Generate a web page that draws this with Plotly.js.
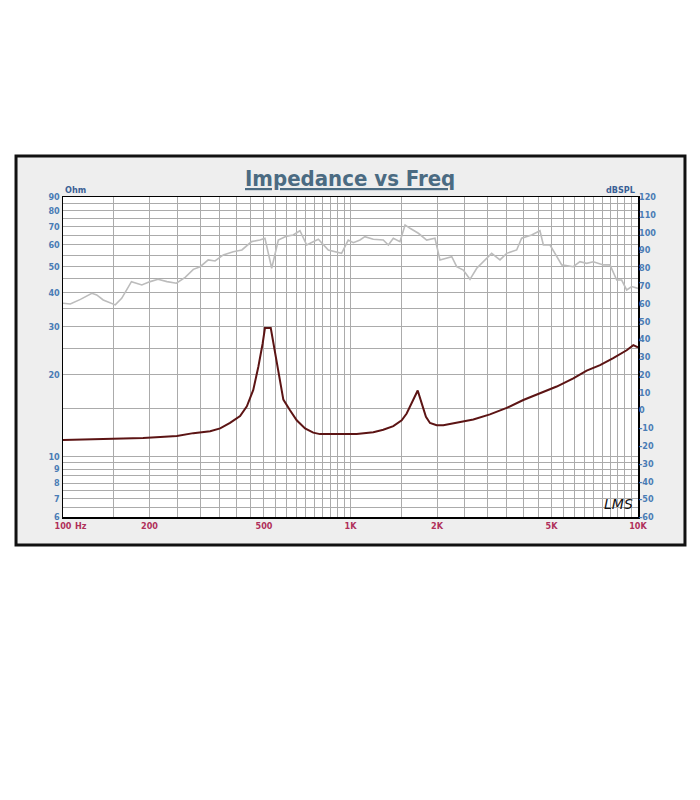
<!DOCTYPE html>
<html>
<head>
<meta charset="utf-8">
<script src="https://cdn.plot.ly/plotly-3.0.1.min.js"></script>
<style>html,body{margin:0;padding:0;background:#fff;}</style>
</head>
<body>
<div id="chart" style="width:700px;height:800px;"></div>
<script>
// Impedance curve (Ohm, left log axis)
const impFreq = [100, 146, 190, 218, 249, 284, 325, 352, 381, 413, 436, 459, 478, 495, 504, 528, 539, 561, 584, 616, 650, 695, 742, 783, 871, 944, 996, 1051, 1200, 1300, 1409, 1507, 1568, 1633, 1713, 1769, 1830, 1890, 1994, 2103, 2341, 2674, 3055, 3493, 3990, 4560, 5214, 5957, 6630, 7379, 8200, 9132, 9632, 10000];
const impOhm = [11.5, 11.6, 11.7, 11.8, 11.9, 12.2, 12.4, 12.7, 13.3, 14.1, 15.3, 17.6, 21.4, 26.1, 29.7, 29.7, 26.1, 20.3, 16.2, 14.8, 13.6, 12.7, 12.25, 12.1, 12.1, 12.15, 12.1, 12.1, 12.3, 12.55, 12.95, 13.6, 14.4, 15.7, 17.5, 15.7, 14.0, 13.3, 13.05, 13.05, 13.3, 13.7, 14.3, 15.1, 16.15, 17.1, 18.1, 19.4, 20.7, 21.7, 23.0, 24.6, 25.7, 25.2];

// SPL curve (dBSPL, right linear axis)
const splFreq = [100, 106, 115, 126, 131, 138, 152, 160, 173, 188, 201, 214, 230, 248, 266, 284, 300, 320, 338, 361, 391, 419, 453, 484, 504, 532, 561, 600, 632, 667, 704, 773, 837, 931, 982, 1023, 1079, 1122, 1200, 1300, 1354, 1409, 1486, 1548, 1611, 1722, 1841, 1967, 2047, 2161, 2250, 2341, 2468, 2604, 2748, 3097, 3311, 3493, 3784, 3938, 4266, 4560, 4686, 4943, 5429, 5957, 6281, 6630, 6994, 7576, 7990, 8433, 8774, 9132, 9506, 10000];
const splDb = [60.2, 59.8, 62.4, 65.8, 64.9, 62.1, 59.3, 63.0, 72.4, 70.5, 72.4, 73.7, 72.4, 71.5, 74.8, 79.3, 80.8, 84.6, 84.0, 87.4, 89.2, 90.2, 94.9, 95.8, 96.8, 79.9, 95.8, 98.0, 98.6, 101.0, 93.0, 96.2, 90.2, 88.3, 95.8, 94.3, 95.8, 97.7, 96.2, 95.8, 93.0, 96.8, 94.9, 104.3, 102.4, 99.6, 95.8, 96.8, 84.6, 85.5, 86.4, 80.8, 78.9, 73.7, 79.9, 88.3, 84.6, 88.3, 90.2, 96.8, 98.6, 101.0, 93.0, 93.0, 81.8, 80.8, 83.6, 82.7, 83.6, 81.8, 81.8, 73.3, 73.3, 67.7, 69.6, 68.6];

// Frequency grid / ticks
const freqGrid = [100, 150, 200, 250, 300, 350, 400, 450, 500, 550, 600, 650, 700, 750, 800, 850, 900, 950, 1000,
  1500, 2000, 2500, 3000, 3500, 4000, 4500, 5000, 5500, 6000, 6500, 7000, 7500, 8000, 8500, 9000, 9500, 10000];
const freqLabels = {100: '100', 200: '200', 500: '500', 1000: '1K', 2000: '2K', 5000: '5K', 10000: '10K'};

// Ohm grid / ticks
const ohmGrid = [6, 6.5, 7, 7.5, 8, 8.5, 9, 9.5, 10, 15, 20, 25, 30, 35, 40, 45, 50, 55, 60, 65, 70, 75, 80, 85, 90];
const ohmLabels = {6: '6', 7: '7', 8: '8', 9: '9', 10: '10', 20: '20', 30: '30', 40: '40', 50: '50', 60: '60', 70: '70', 80: '80', 90: '90'};

// dBSPL ticks
const dbTicks = [-60, -50, -40, -30, -20, -10, 0, 10, 20, 30, 40, 50, 60, 70, 80, 90, 100, 110, 120];
const dbLabels = ['-60', '-50', '-40', '-30', '-20', '-10', '0', '10', '20', '30', '40', '50', '60', '70', '80', '90', '100', '110', '120'];

const labelFont = 'Liberation Sans Narrow, DejaVu Sans Condensed, Liberation Sans, Arial, sans-serif';
const blue = '#4a7cb5';
const red = '#b0305a';
const gridCol = '#ababab';

const traces = [
  {x: splFreq, y: splDb, yaxis: 'y2', type: 'scatter', mode: 'lines',
   line: {color: '#bcbcbc', width: 1.6}, hoverinfo: 'skip', showlegend: false},
  {x: impFreq, y: impOhm, yaxis: 'y', type: 'scatter', mode: 'lines',
   line: {color: '#5c1414', width: 2}, hoverinfo: 'skip', showlegend: false}
];

const layout = {
  width: 700, height: 800,
  margin: {l: 63, r: 62, t: 197, b: 283, pad: 0},
  paper_bgcolor: '#ffffff',
  plot_bgcolor: 'rgba(0,0,0,0)',
  showlegend: false,
  xaxis: {
    type: 'log', range: [2, 4],
    tickvals: freqGrid,
    ticktext: freqGrid.map(v => freqLabels[v] || ''),
    showgrid: true, gridcolor: gridCol, gridwidth: 1,
    showline: true, mirror: true, linecolor: '#000', linewidth: 1.5,
    ticks: '', zeroline: false,
    tickfont: {family: labelFont, size: 9, color: red, weight: 'bold'},
    tickangle: 0
  },
  yaxis: {
    type: 'log', range: [Math.log10(6), Math.log10(90)],
    tickvals: ohmGrid,
    ticktext: ohmGrid.map(v => ohmLabels[v] || ''),
    showgrid: true, gridcolor: gridCol, gridwidth: 1,
    showline: true, mirror: true, linecolor: '#000', linewidth: 1.5,
    ticks: '', zeroline: false,
    tickfont: {family: labelFont, size: 9, color: blue, weight: 'bold'}
  },
  yaxis2: {
    overlaying: 'y', side: 'right', range: [-60, 120],
    tickvals: dbTicks, ticktext: dbLabels,
    showgrid: false, zeroline: false, showline: false, ticks: '',
    tickfont: {family: labelFont, size: 9, color: blue, weight: 'bold'}
  },
  shapes: [
    {type: 'rect', xref: 'paper', yref: 'paper', x0: -0.0817, x1: 1.0817, y0: -0.0875, y1: 1.128,
     fillcolor: '#eeeeee', line: {color: '#111', width: 3}, layer: 'below'},
    {type: 'rect', xref: 'paper', yref: 'paper', x0: 0, x1: 1, y0: 0, y1: 1,
     fillcolor: '#ffffff', line: {width: 0}, layer: 'below'}
  ],
  annotations: [
    {text: '<u><b>Impedance vs Freq</b></u>', xref: 'paper', yref: 'paper', x: 0.499, y: 1.059,
     xanchor: 'center', yanchor: 'middle', showarrow: false,
     font: {family: labelFont, size: 22, color: '#4b6b82'}},
    {text: 'Ohm', xref: 'paper', yref: 'paper', x: 0.0, y: 1.0, xanchor: 'left', yanchor: 'bottom',
     showarrow: false, font: {family: labelFont, size: 9, color: '#3a5f95', weight: 'bold'}},
    {text: 'dBSPL', xref: 'paper', yref: 'paper', x: 0.998, y: 1.0, xanchor: 'right', yanchor: 'bottom',
     showarrow: false, font: {family: labelFont, size: 9, color: '#3a5f95', weight: 'bold'}},
    {text: 'Hz', xref: 'paper', yref: 'paper', x: 0.018, y: -0.0, xanchor: 'left', yanchor: 'top', yshift: -2,
     showarrow: false, font: {family: labelFont, size: 9, color: red, weight: 'bold'}},
    {text: '<i>LMS</i>', xref: 'paper', yref: 'paper', x: 0.966, y: 0.04, xanchor: 'center', yanchor: 'middle',
     showarrow: false, font: {family: 'DejaVu Sans, sans-serif', size: 14, color: '#111'}}
  ]
};

Plotly.newPlot('chart', traces, layout, {displayModeBar: false, staticPlot: true});
</script>
</body>
</html>
